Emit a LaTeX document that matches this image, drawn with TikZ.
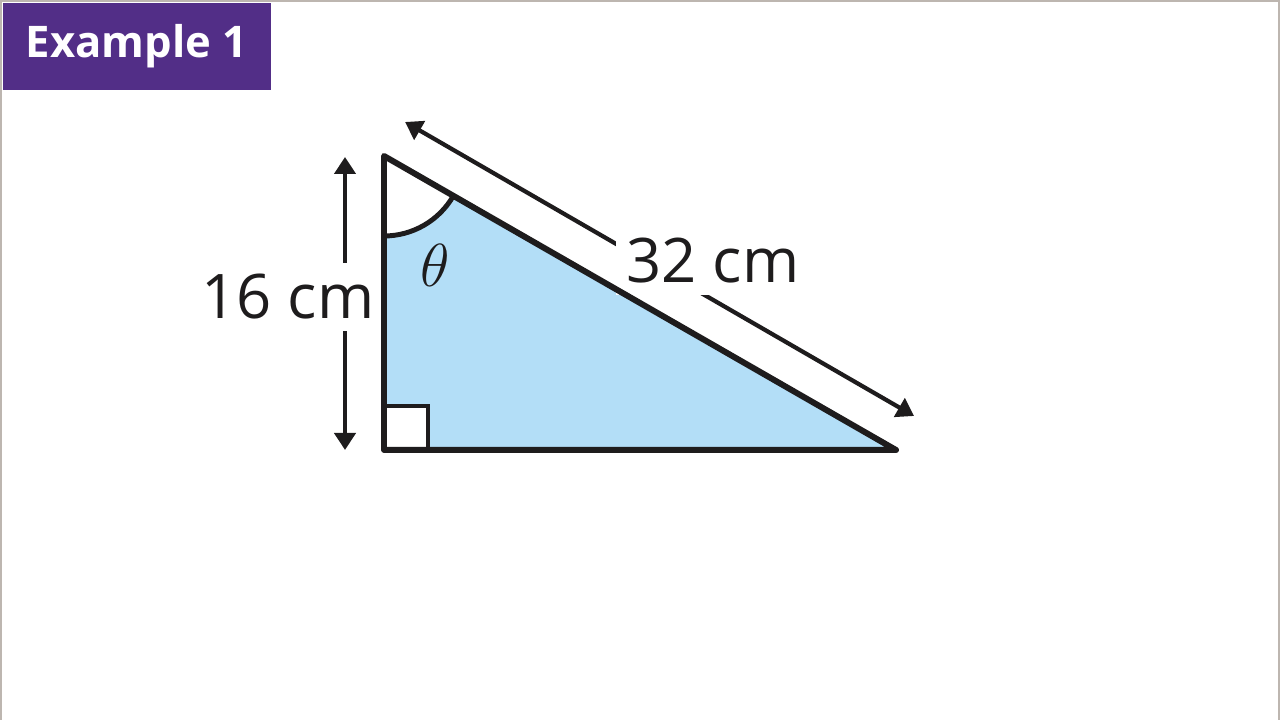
\documentclass[tikz,border=0pt]{standalone}
\usepackage{fontspec}
\setmainfont{Open Sans}
\usetikzlibrary{arrows.meta,calc}
\definecolor{banner}{RGB}{82,46,135}
\definecolor{skyfill}{RGB}{179,222,247}
\definecolor{edgegray}{RGB}{189,182,176}
\definecolor{ink}{RGB}{30,28,29}

\begin{document}
\begin{tikzpicture}[
    side/.style={line width=1.7pt,line join=round,line cap=round,draw=ink},
    dimline/.style={line width=1.2pt,draw=ink,{Triangle[length=0.17cm,width=0.21cm]}-{Triangle[length=0.17cm,width=0.21cm]}},
    dimlabel/.style={fill=white,inner sep=0.11cm,text=ink,font=\fontsize{17.5}{20}\selectfont}
  ]
    \useasboundingbox (0,0) rectangle (12.8,7.2);
    \draw[edgegray,line width=0.6pt] (0.01,0) -- (0.01,7.19) -- (12.79,7.19) -- (12.79,0);
    \node[fill=banner,minimum width=2.68cm,minimum height=0.87cm,anchor=north west,text=white,font=\bfseries\fontsize{12.4}{15}\selectfont] (title) at (0.02,7.18) {Example 1};
    % corners of the triangle
    \coordinate (A) at (3.84,5.64);
    \coordinate (C) at (3.84,2.70);
    \coordinate (B) at (8.96,2.70);
    \fill[skyfill] (A) -- (C) -- (B) -- cycle;
    \fill[white] (A) -- ++(0,-0.80) arc[start angle=-90,end angle=-29.87,radius=0.80] -- cycle;
    % ends of the two measuring arrows
    \coordinate (v1) at (3.45,5.63);
    \coordinate (v2) at (3.45,2.70);
    \coordinate (h1) at (4.05,5.98);
    \coordinate (h2) at (9.14,3.04);
    \draw[dimline] (v1) -- (v2);
    \draw[dimline] (h1) -- (h2);
    \node[dimlabel] (leg) at (2.88,4.23) {16 cm};
    \node[dimlabel] (hyp) at (7.13,4.59) {32 cm};
    \node[text=ink] (theta) at (4.35,4.55) {\fontsize{19}{21}\selectfont$\theta$};
    \draw[ink,line width=1.4pt] ($(A)+(0,-0.80)$) arc[start angle=-90,end angle=-29.87,radius=0.80];
    \filldraw[fill=white,draw=ink,line width=1.2pt] (C) rectangle ++(0.44,0.44);
    \draw[side] (A) -- (C) -- (B) -- cycle;
\end{tikzpicture}
\end{document}
